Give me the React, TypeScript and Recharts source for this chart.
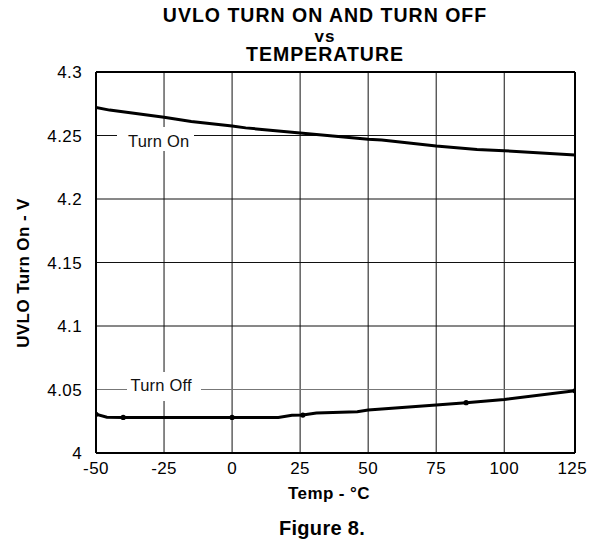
import React from "react";
import {
  CartesianGrid,
  Line,
  LineChart,
  ReferenceLine,
  XAxis,
  YAxis,
} from "recharts";

// temperatures in °C, voltages in V
const onTemps = [-50, -45, -25, -15, 0, 5, 10, 25, 50, 55, 75, 90, 100, 126];
const onVolts = [
  4.272, 4.27, 4.2643, 4.261, 4.2575, 4.256, 4.255, 4.252, 4.247, 4.2465,
  4.2417, 4.239, 4.238, 4.2346,
];

const offTemps = [-50, -46, -40, 0, 17, 22, 26, 31, 46, 50, 75, 86, 100, 126];
const offVolts = [
  4.0305, 4.0282, 4.028, 4.028, 4.028, 4.0297, 4.0299, 4.0315, 4.0325, 4.0338,
  4.0378, 4.0396, 4.0422, 4.049,
];
const offMarked = [-50, -40, 0, 26, 86, 126];

const xTicks = [-50, -25, 0, 25, 50, 75, 100, 125];
const yTicks = [4, 4.05, 4.1, 4.15, 4.2, 4.25, 4.3];

const turnOn = onTemps.map((t, i) => ({ t, v: onVolts[i] }));
const turnOff = offTemps.map((t, i) => ({ t, v: offVolts[i] }));

const font = "'Liberation Sans', Arial, Helvetica, sans-serif";

const tickStyle = {
  fontSize: 17,
  fill: "#000",
  fontFamily: font,
  letterSpacing: 0.4,
};

function OffDot(props: any) {
  const { cx, cy, payload, index } = props;
  if (!offMarked.includes(payload.t)) return <g key={`d${index}`} />;
  return <circle key={`d${index}`} cx={cx} cy={cy} r={2.6} fill="#000" />;
}

export default function App() {
  return (
    <div
      style={{
        position: "absolute",
        left: 0,
        top: 0,
        width: 592,
        height: 544,
        background: "#fff",
      }}
    >
      <LineChart
        width={592}
        height={544}
        margin={{ top: 72, right: 17, bottom: 61, left: 36 }}
      >
        <CartesianGrid
          stroke="#111"
          strokeWidth={1}
          horizontalValues={[4.1, 4.15, 4.2, 4.25]}
          verticalValues={[-25, 0, 25, 50, 75, 100]}
        />
        <XAxis
          type="number"
          dataKey="t"
          domain={[-50, 126]}
          ticks={xTicks}
          allowDataOverflow
          height={30}
          axisLine={{ stroke: "#000", strokeWidth: 2 }}
          tickLine={false}
          tickSize={0}
          tickMargin={9}
          tick={tickStyle}
        />
        <YAxis
          type="number"
          domain={[4, 4.3]}
          ticks={yTicks}
          allowDataOverflow
          width={60}
          axisLine={{ stroke: "#000", strokeWidth: 2 }}
          tickLine={false}
          tickSize={0}
          tickMargin={14}
          tick={tickStyle}
          tickFormatter={(v: number) => String(Number(v.toFixed(2)))}
        />
        <ReferenceLine y={4.05} stroke="#777" strokeWidth={1} />
        <ReferenceLine y={4.3} stroke="#000" strokeWidth={2} />
        <ReferenceLine x={126} stroke="#000" strokeWidth={2} />
        <Line
          data={turnOn}
          dataKey="v"
          type="linear"
          stroke="#000"
          strokeWidth={3}
          dot={false}
          isAnimationActive={false}
        />
        <Line
          data={turnOff}
          dataKey="v"
          type="linear"
          stroke="#000"
          strokeWidth={3}
          dot={OffDot}
          isAnimationActive={false}
        />
      </LineChart>

      <svg
        width={592}
        height={544}
        style={{ position: "absolute", left: 0, top: 0, pointerEvents: "none" }}
        fontFamily={font}
      >
        <g fontWeight="bold" fill="#000" textAnchor="middle" letterSpacing={1}>
          <text x={325} y={22} fontSize={19.5}>UVLO TURN ON AND TURN OFF</text>
          <text x={325} y={41.5} fontSize={17}>vs</text>
          <text x={325} y={60.5} fontSize={19.5}>TEMPERATURE</text>
        </g>

        <text
          x={29}
          y={273}
          transform="rotate(-90 29 273)"
          textAnchor="middle"
          fontWeight="bold"
          fontSize={17}
          letterSpacing={0.4}
        >
          UVLO Turn On - V
        </text>
        <text x={329} y={499} textAnchor="middle" fontWeight="bold" fontSize={17} letterSpacing={0.4}>
          Temp - °C
        </text>
        <text x={322} y={535} textAnchor="middle" fontWeight="bold" fontSize={20} letterSpacing={0.3}>
          Figure 8.
        </text>

        <rect x={117} y={127} width={77} height={24} fill="#fff" />
        <text x={128} y={146.5} fontSize={16.5} letterSpacing={0.2} fill="#111">
          Turn On
        </text>
        <rect x={127} y={372} width={74} height={29} fill="#fff" />
        <text x={130.5} y={390.5} fontSize={16.5} letterSpacing={0.2} fill="#111">
          Turn Off
        </text>
      </svg>
    </div>
  );
}
